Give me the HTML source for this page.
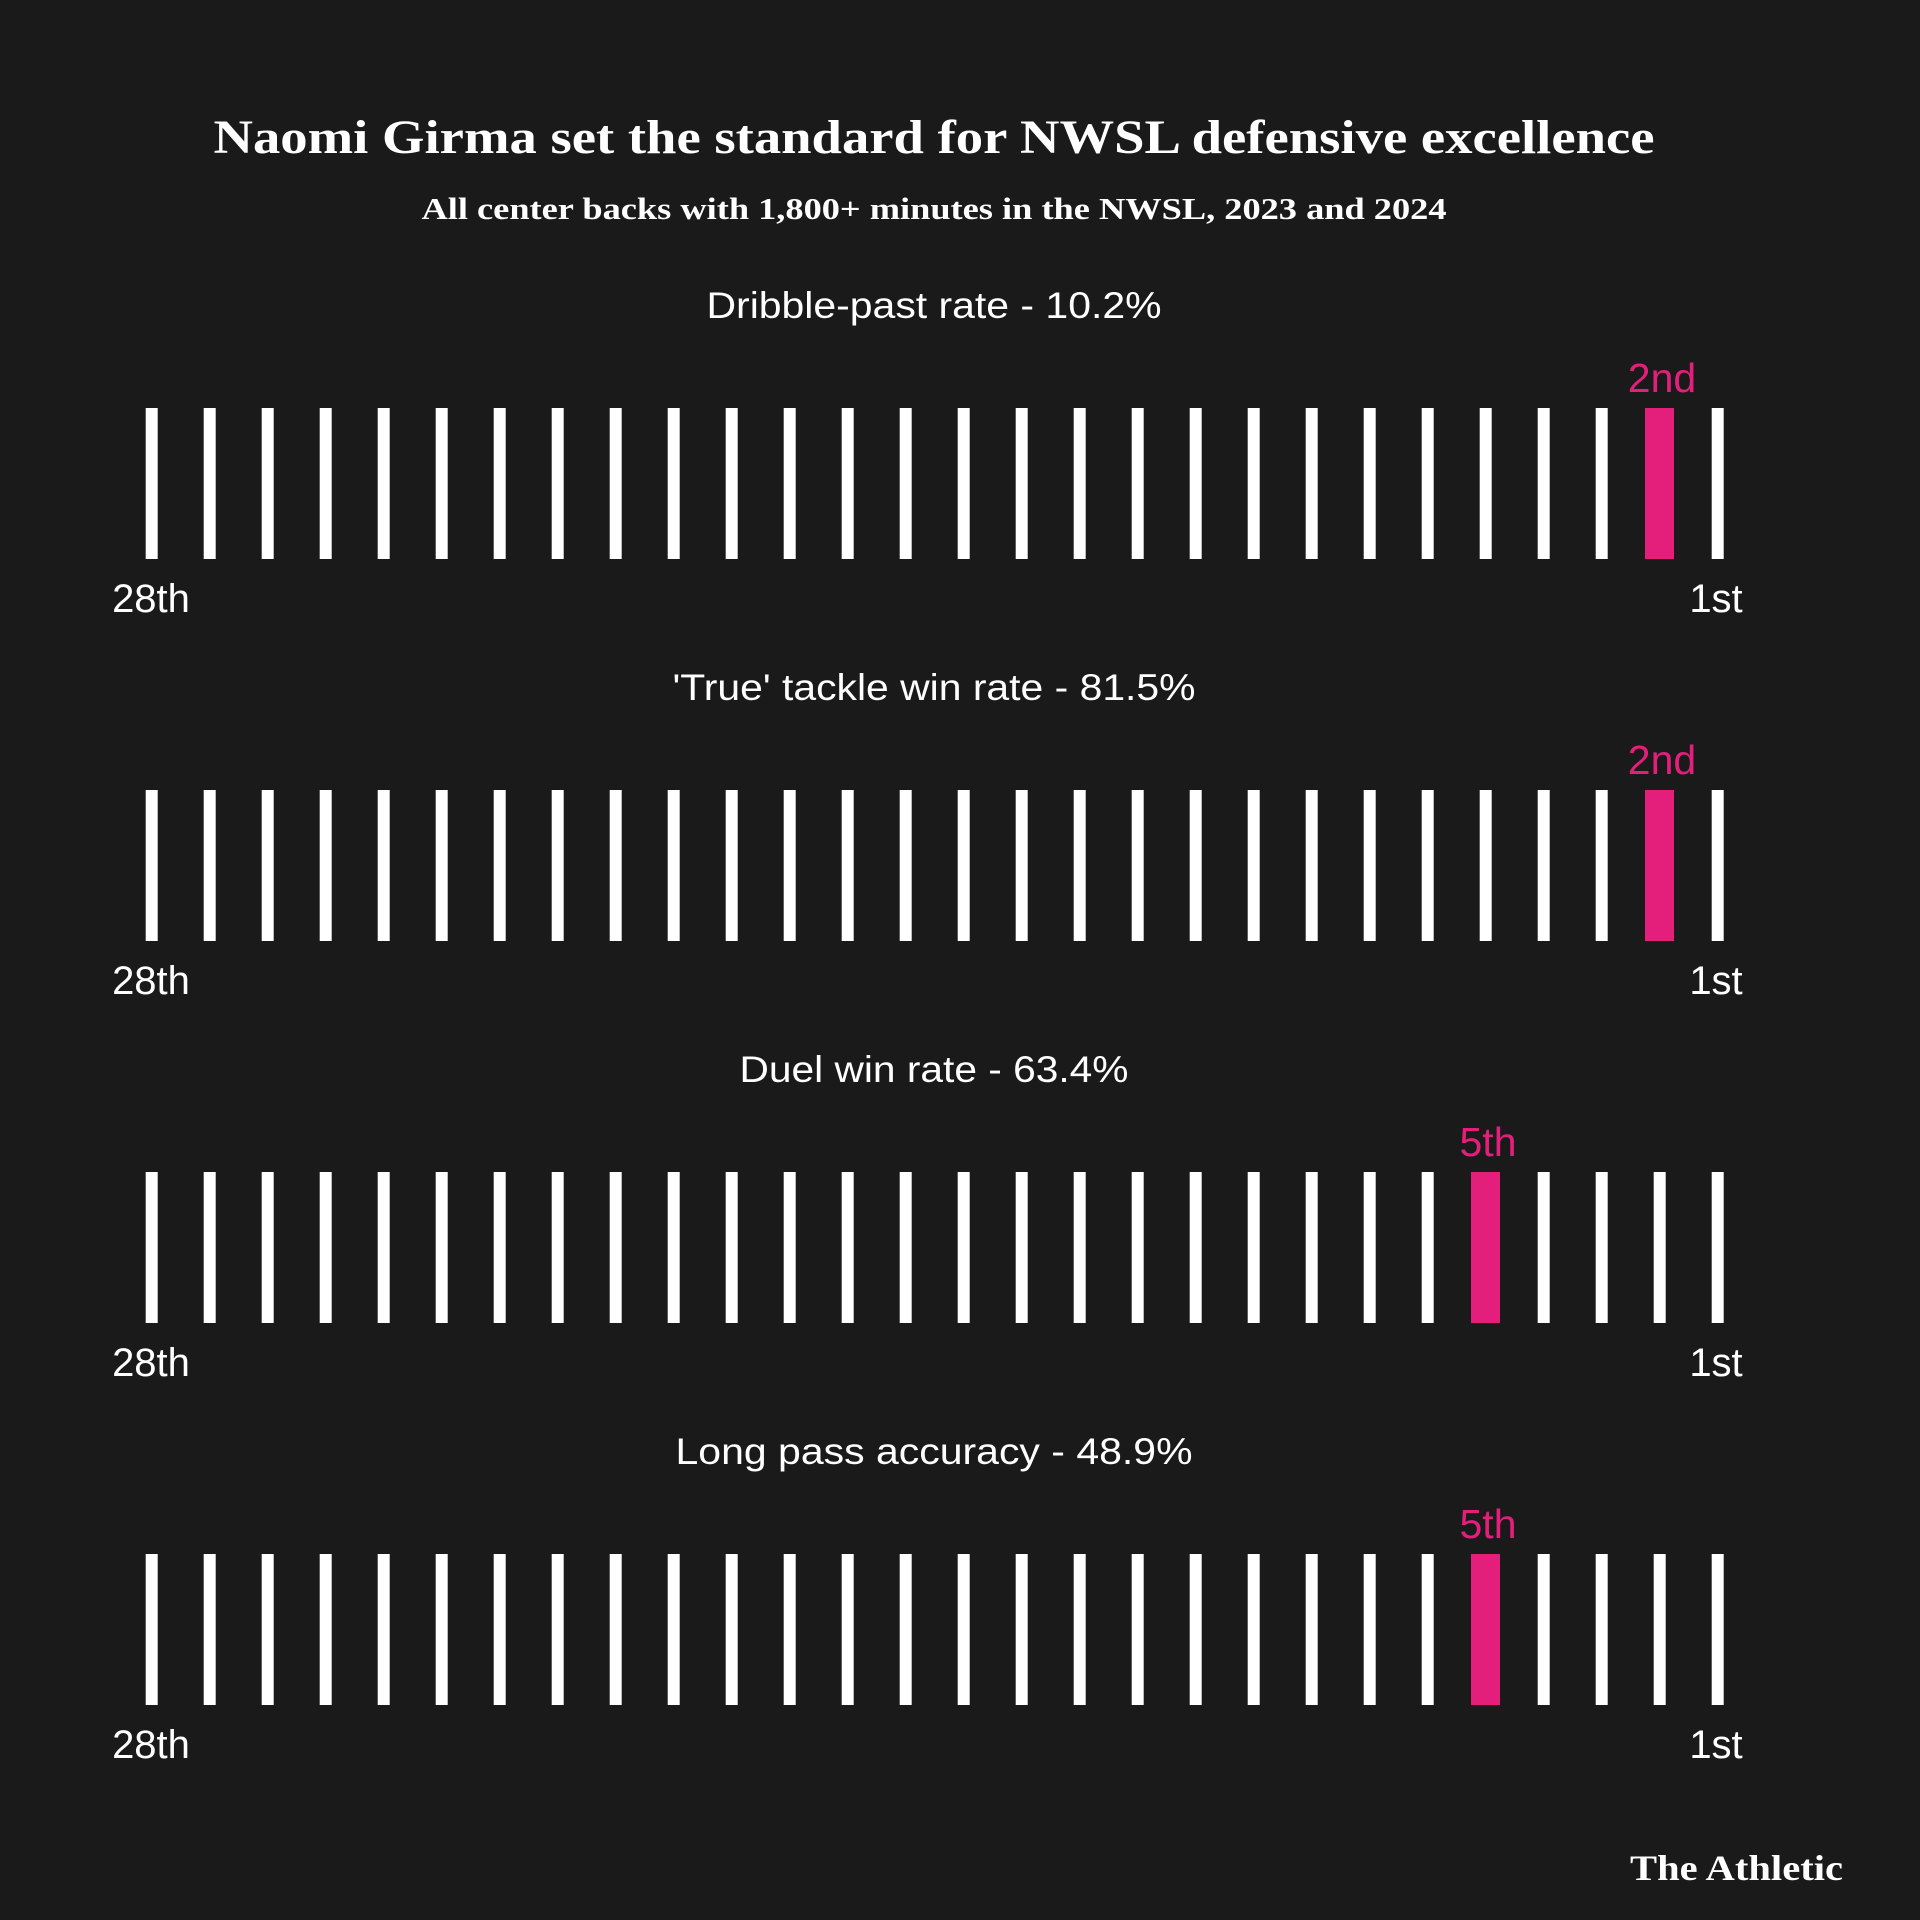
<!DOCTYPE html>
<html><head><style>
body{margin:0;background:#1a1a1a;}
svg{display:block}
</style></head><body>
<svg width="1920" height="1920" xmlns="http://www.w3.org/2000/svg">
<rect width="1920" height="1920" fill="#1a1a1a"/>
<defs>
<g id="bars" fill="#fff">
<rect x="145.7" y="0" width="12" height="151"/><rect x="203.7" y="0" width="12" height="151"/><rect x="261.7" y="0" width="12" height="151"/><rect x="319.7" y="0" width="12" height="151"/><rect x="377.7" y="0" width="12" height="151"/><rect x="435.7" y="0" width="12" height="151"/><rect x="493.7" y="0" width="12" height="151"/><rect x="551.7" y="0" width="12" height="151"/><rect x="609.7" y="0" width="12" height="151"/><rect x="667.7" y="0" width="12" height="151"/><rect x="725.7" y="0" width="12" height="151"/><rect x="783.7" y="0" width="12" height="151"/><rect x="841.7" y="0" width="12" height="151"/><rect x="899.7" y="0" width="12" height="151"/><rect x="957.7" y="0" width="12" height="151"/><rect x="1015.7" y="0" width="12" height="151"/><rect x="1073.7" y="0" width="12" height="151"/><rect x="1131.7" y="0" width="12" height="151"/><rect x="1189.7" y="0" width="12" height="151"/><rect x="1247.7" y="0" width="12" height="151"/><rect x="1305.7" y="0" width="12" height="151"/><rect x="1363.7" y="0" width="12" height="151"/><rect x="1421.7" y="0" width="12" height="151"/><rect x="1479.7" y="0" width="12" height="151"/><rect x="1537.7" y="0" width="12" height="151"/><rect x="1595.7" y="0" width="12" height="151"/><rect x="1653.7" y="0" width="12" height="151"/><rect x="1711.7" y="0" width="12" height="151"/>
</g>
</defs>
<text x="934" y="153" text-anchor="middle" font-family="Liberation Serif, serif" font-weight="bold" font-size="48" fill="#fff" textLength="1441" lengthAdjust="spacingAndGlyphs">Naomi Girma set the standard for NWSL defensive excellence</text>
<text x="934" y="219" text-anchor="middle" font-family="Liberation Serif, serif" font-weight="bold" font-size="31" fill="#fff" textLength="1025" lengthAdjust="spacingAndGlyphs">All center backs with 1,800+ minutes in the NWSL, 2023 and 2024</text>

<g font-family="Liberation Sans, sans-serif" font-size="37" fill="#fff">
<text x="934" y="318" text-anchor="middle" textLength="455" lengthAdjust="spacingAndGlyphs">Dribble-past rate - 10.2%</text>
<use href="#bars" y="408"/>
<rect x="1645" y="408" width="29" height="151" fill="#e31f7b"/>
<text x="1662" y="392" text-anchor="middle" font-size="41" fill="#e31f7b">2nd</text>
<text x="151" y="612" text-anchor="middle" font-size="40">28th</text>
<text x="1716" y="612" text-anchor="middle" font-size="40">1st</text>

<text x="934" y="700" text-anchor="middle" textLength="523" lengthAdjust="spacingAndGlyphs">'True' tackle win rate - 81.5%</text>
<use href="#bars" y="790"/>
<rect x="1645" y="790" width="29" height="151" fill="#e31f7b"/>
<text x="1662" y="774" text-anchor="middle" font-size="41" fill="#e31f7b">2nd</text>
<text x="151" y="994" text-anchor="middle" font-size="40">28th</text>
<text x="1716" y="994" text-anchor="middle" font-size="40">1st</text>

<text x="934" y="1082" text-anchor="middle" textLength="389" lengthAdjust="spacingAndGlyphs">Duel win rate - 63.4%</text>
<use href="#bars" y="1172"/>
<rect x="1471" y="1172" width="29" height="151" fill="#e31f7b"/>
<text x="1488" y="1156" text-anchor="middle" font-size="41" fill="#e31f7b">5th</text>
<text x="151" y="1376" text-anchor="middle" font-size="40">28th</text>
<text x="1716" y="1376" text-anchor="middle" font-size="40">1st</text>

<text x="934" y="1464" text-anchor="middle" textLength="517" lengthAdjust="spacingAndGlyphs">Long pass accuracy - 48.9%</text>
<use href="#bars" y="1554"/>
<rect x="1471" y="1554" width="29" height="151" fill="#e31f7b"/>
<text x="1488" y="1538" text-anchor="middle" font-size="41" fill="#e31f7b">5th</text>
<text x="151" y="1758" text-anchor="middle" font-size="40">28th</text>
<text x="1716" y="1758" text-anchor="middle" font-size="40">1st</text>
</g>
<text x="1843" y="1880" text-anchor="end" font-family="Liberation Serif, serif" font-weight="bold" font-size="36" fill="#fff" textLength="213" lengthAdjust="spacingAndGlyphs">The Athletic</text>
</svg>
</body></html>
